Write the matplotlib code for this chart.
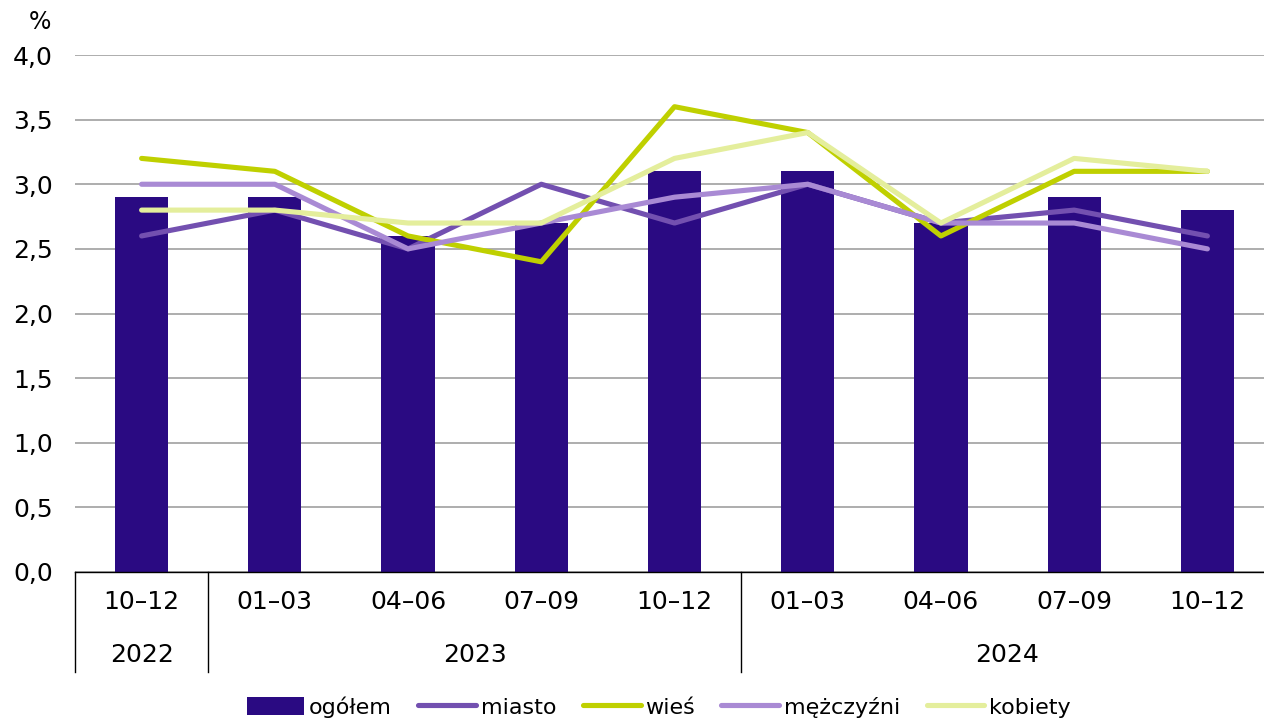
import numpy as np
import matplotlib
matplotlib.use("Agg")
import matplotlib.pyplot as plt
from matplotlib import font_manager
import matplotlib.transforms as mtransforms
from matplotlib.lines import Line2D

names = {f.name for f in font_manager.fontManager.ttflist}
base = "Liberation Sans Narrow" if "Liberation Sans Narrow" in names else "DejaVu Sans"
plt.rcParams["font.family"] = [base, "DejaVu Sans"]

quarters = ["10–12", "01–03", "04–06", "07–09", "10–12", "01–03", "04–06", "07–09", "10–12"]
years = ["2022", "2023", "2024"]
year_spans = [(0, 0), (1, 4), (5, 8)]

ogolem = [2.9, 2.9, 2.6, 2.7, 3.1, 3.1, 2.7, 2.9, 2.8]
miasto = [2.6, 2.8, 2.5, 3.0, 2.7, 3.0, 2.7, 2.8, 2.6]
wies = [3.2, 3.1, 2.6, 2.4, 3.6, 3.4, 2.6, 3.1, 3.1]
mezczyzni = [3.0, 3.0, 2.5, 2.7, 2.9, 3.0, 2.7, 2.7, 2.5]
kobiety = [2.8, 2.8, 2.7, 2.7, 3.2, 3.4, 2.7, 3.2, 3.1]

fig = plt.figure(figsize=(12.64, 7.2), dpi=100)
ax = fig.add_axes([75 / 1264, 1 - 572 / 720, 1199 / 1264, 517 / 720])

x = np.arange(len(quarters))
ax.bar(x, ogolem, width=0.4, color="#2a0a82", label="ogółem", zorder=2)
lw = 3.7
ax.plot(x, miasto, color="#7350b0", lw=lw, label="miasto", zorder=3, solid_capstyle="round")
ax.plot(x, wies, color="#bfd000", lw=lw, label="wieś", zorder=3, solid_capstyle="round")
ax.plot(x, mezczyzni, color="#a98ad4", lw=lw, label="mężczyźni", zorder=3, solid_capstyle="round")
ax.plot(x, kobiety, color="#e4ee9c", lw=lw, label="kobiety", zorder=3, solid_capstyle="round")

ax.set_xlim(-0.5, 8.5)
ax.set_ylim(0, 4)
ax.set_yticks(np.arange(0, 4.01, 0.5))
ax.set_yticklabels([f"{v:.1f}".replace(".", ",") for v in np.arange(0, 4.01, 0.5)], fontsize=18)
ax.yaxis.grid(True, color="#a0a0a0", lw=1.2, zorder=0)
ax.set_axisbelow(True)
ax.tick_params(axis="y", length=0, pad=16)
ax.set_xticks([])
for s in ["left", "right", "top"]:
    ax.spines[s].set_visible(False)
ax.spines["bottom"].set_color("black")
ax.spines["bottom"].set_linewidth(1)

fig.text(40 / 1264, 1 - 22 / 720, "%", fontsize=17, ha="center", va="center")

trans = mtransforms.blended_transform_factory(ax.transData, ax.transAxes)
for i, q in enumerate(quarters):
    ax.text(i, -0.058, q, transform=trans, ha="center", va="center", fontsize=18)
for yr, (a, b) in zip(years, year_spans):
    ax.text((a + b) / 2, -0.16, yr, transform=trans, ha="center", va="center", fontsize=18)
for sx in [-0.5, 0.5, 4.5]:
    ax.add_line(Line2D([sx, sx], [0, -0.193], transform=trans, color="black", lw=1, clip_on=False))

handles, labels = ax.get_legend_handles_labels()
order = [4, 0, 1, 2, 3]
handles = [handles[i] for i in order]
labels = [labels[i] for i in order]
fig.legend(handles, labels, loc="center", bbox_to_anchor=(0.521, 0.018), ncol=5, frameon=False,
           fontsize=16, handlelength=2.6, handleheight=0.9, handletextpad=0.2, columnspacing=1.2)

fig.savefig("out.png", dpi=100)
